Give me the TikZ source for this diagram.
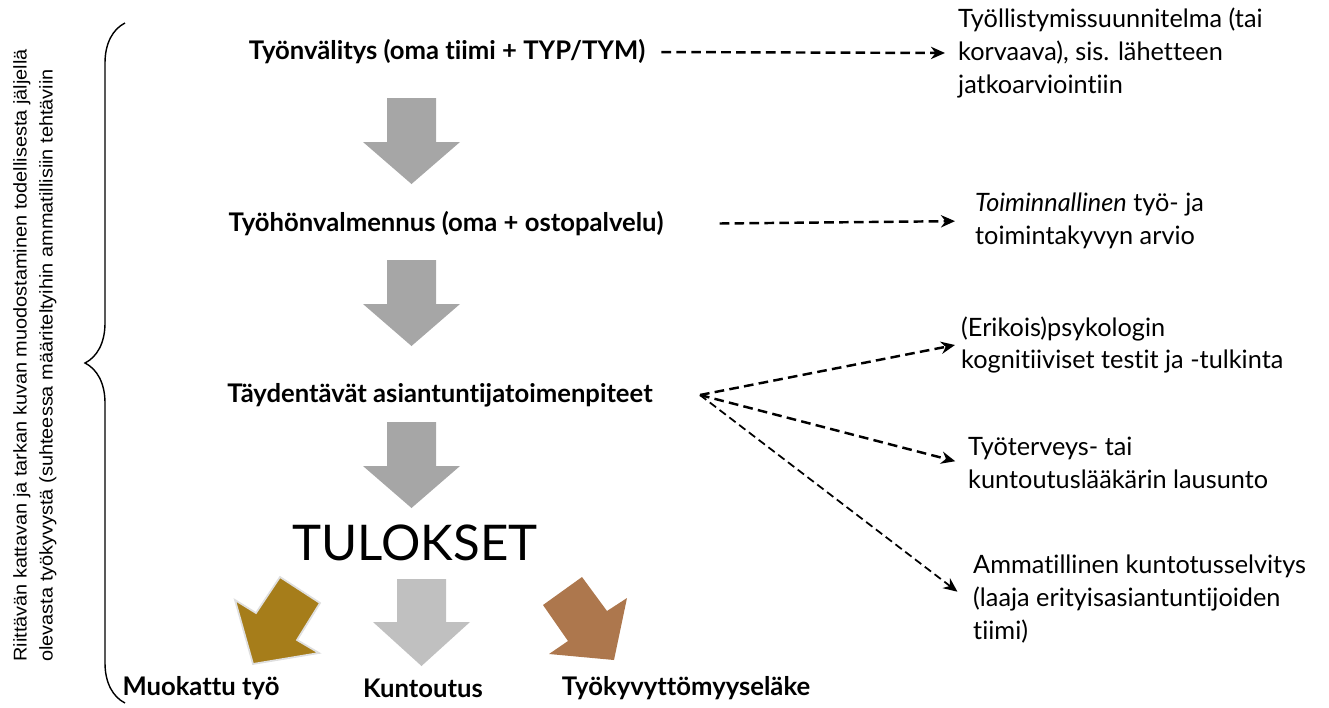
\documentclass[tikz,border=0pt]{standalone}
\usepackage{fontspec}
\setmainfont{Lato}[Ligatures=NoCommon]
\newfontfamily\sidefont{Liberation Sans}[FakeStretch=1.08]
\usetikzlibrary{arrows.meta, decorations.pathreplacing, positioning, calc}

\definecolor{stepgray}{HTML}{A6A6A6}
\definecolor{kuntgray}{HTML}{C0C0C0}
\definecolor{muokolive}{HTML}{A67D1A}
\definecolor{elakebrown}{HTML}{AD774D}

\begin{document}
\begin{tikzpicture}[x=0.02cm, y=-0.02cm,
  phase/.style={font=\fontsize{14.6}{17}\selectfont\bfseries},
  note/.style={font=\fontsize{14.4}{18.7}\selectfont, align=left, anchor=west},
  outcome/.style={font=\fontsize{14.6}{17}\selectfont\bfseries},
  dashlink/.style={line width=1.4pt, dash pattern=on 5.5pt off 3pt, -{Stealth[length=8pt,width=7pt]}}]
\useasboundingbox (0,0) rectangle (1329,707);

% vasen reuna
\node[rotate=90, anchor=north west, inner sep=0pt, align=left,
  font=\sidefont\fontsize{10.5}{14.8}\selectfont] (side) at (13,662)
  {Riittävän kattavan ja tarkan kuvan muodostaminen todellisesta jäljellä\\
   olevasta työkyvystä (suhteessa määriteltyihin ammatillisiin tehtäviin};
\draw[line width=0.8pt, decorate, decoration={brace, amplitude=0.8cm}] (125,703) -- (125,23);

% vaiheet
\node[phase] (tv) at (447,52) {Työnvälitys (oma tiimi + TYP/TYM)};
\node[phase] (thv) at (446,224) {Työhönvalmennus (oma + ostopalvelu)};
\node[phase] (tat) at (440,395) {Täydentävät asiantuntijatoimenpiteet};
\node[font=\fontsize{28}{34}\selectfont] (tul) at (415,543) {TULOKSET};
\foreach \t in {98,260,422} {
\fill[stepgray] (387,\t) -- (436,\t) -- (436,\t+44) -- (460,\t+44)
  -- (411.5,\t+86) -- (363,\t+44) -- (387,\t+44) -- cycle;
}

% arviot
\node[note] (r1) at (952,53) {Työllistymissuunnitelma (tai\\korvaava), sis. lähetteen\\jatkoarviointiin};
\node[note] (r2) at (969,221) {\textit{Toiminnallinen} työ- ja\\toimintakyvyn arvio};
\node[note] (r3) at (955,345) {(Erikois)psykologin\\kognitiiviset testit ja -tulkinta};
\node[note] (r4) at (962,463) {Työterveys- tai\\kuntoutuslääkärin lausunto};
\node[note] (r5) at (967,599) {Ammatillinen kuntotusselvitys\\(laaja erityisasiantuntijoiden\\tiimi)};
\coordinate (fan) at (700,395);

\draw[dashlink, shorten <=2mm, shorten >=1.4mm] (tv.east) -- (r1.west);
\draw[dashlink, shorten <=10mm, shorten >=2.8mm] (thv.east) -- (r2.west);
\draw[dashlink] (fan) -- (r3.west);
\draw[dashlink, shorten >=1.4mm] (fan) -- (r4.west);
\draw[dashlink, line width=1pt, dash pattern=on 4.5pt off 2.5pt, shorten >=2.4mm] (fan) -- (r5.west);

% tulokset
\fill[muokolive, draw=gray!25, line width=1pt] (235,600) -- (256,613) -- (280,577) -- (320,603)
  -- (297,640) -- (319,653) -- (253,664) -- cycle;
\fill[kuntgray] (397,579) -- (446,579) -- (446,622) -- (470,622) -- (421.5,666)
  -- (373,622) -- (397,622) -- cycle;
\fill[elakebrown] (543,605) -- (582,577) -- (607,611) -- (627,598) -- (614,660)
  -- (549,654) -- (568,641) -- cycle;
\node[outcome] (muok) at (201,688) {Muokattu työ};
\node[outcome] (kunt) at (423,688) {Kuntoutus};
\node[outcome] (elake) at (686,688) {Työkyvyttömyyseläke};
\end{tikzpicture}
\end{document}
